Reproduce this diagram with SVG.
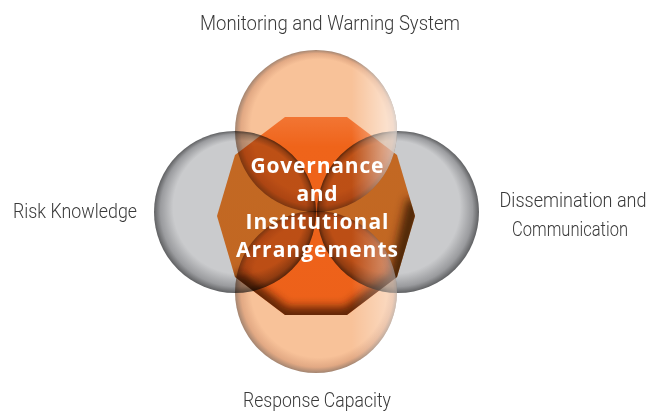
<svg xmlns="http://www.w3.org/2000/svg" width="662" height="415" viewBox="0 0 662 415">
  <style>
    .label { font-family: Roboto, "Liberation Sans", sans-serif; font-weight: 300; font-size: 21px; fill: #3a3a3a; }
    .core { font-family: "Open Sans", "Liberation Sans", sans-serif; font-weight: 700; font-size: 21px; fill: #ffffff; }
    .ring { mix-blend-mode: multiply; }
  </style>
  <defs>
    <!-- inner-shadow style fills for the four circles -->
    <radialGradient id="peachTop" cx="0.5" cy="0.5" r="0.5" fx="0.62" fy="0.36">
      <stop offset="0" stop-color="#f8c299"/>
      <stop offset="0.84" stop-color="#f8c299"/>
      <stop offset="0.94" stop-color="#e2a984"/>
      <stop offset="1" stop-color="#a38571"/>
    </radialGradient>
    <radialGradient id="peachBottom" cx="0.5" cy="0.5" r="0.5" fx="0.62" fy="0.4">
      <stop offset="0" stop-color="#f8c299"/>
      <stop offset="0.84" stop-color="#f8c299"/>
      <stop offset="0.94" stop-color="#e2a984"/>
      <stop offset="1" stop-color="#a38571"/>
    </radialGradient>
    <radialGradient id="grayLeft" cx="0.5" cy="0.5" r="0.5" fx="0.66" fy="0.34">
      <stop offset="0" stop-color="#cacbcd"/>
      <stop offset="0.82" stop-color="#cacbcd"/>
      <stop offset="0.94" stop-color="#9a9b9e"/>
      <stop offset="1" stop-color="#5f6062"/>
    </radialGradient>
    <radialGradient id="grayRight" cx="0.5" cy="0.5" r="0.5" fx="0.34" fy="0.34">
      <stop offset="0" stop-color="#cacbcd"/>
      <stop offset="0.82" stop-color="#cacbcd"/>
      <stop offset="0.94" stop-color="#9a9b9e"/>
      <stop offset="1" stop-color="#5f6062"/>
    </radialGradient>
    <linearGradient id="sheen" x1="0" y1="0" x2="1" y2="0">
      <stop offset="0" stop-color="#ffffff" stop-opacity="0"/>
      <stop offset="0.72" stop-color="#ffffff" stop-opacity="0"/>
      <stop offset="1" stop-color="#ffffff" stop-opacity="0.65"/>
    </linearGradient>
    <linearGradient id="coreFill" x1="0" y1="0" x2="0" y2="1">
      <stop offset="0" stop-color="#f99a55"/>
      <stop offset="0.15" stop-color="#f6832b"/>
      <stop offset="1" stop-color="#f4802a"/>
    </linearGradient>
    <clipPath id="coreClip">
      <polygon points="285,117 347,117 397,155 415,216 397,277 347,315 285,315 235,277 217,216 235,155"/>
    </clipPath>
    <filter id="soft" x="-20%" y="-20%" width="140%" height="140%">
      <feGaussianBlur stdDeviation="5"/>
    </filter>
  </defs>

  <!-- central decagon -->
  <g id="governance-shape">
    <polygon points="285,117 347,117 397,155 415,216 397,277 347,315 285,315 235,277 217,216 235,155" fill="url(#coreFill)"/>
    <g clip-path="url(#coreClip)">
      <polyline points="415,200 397,277 347,315 285,315 235,277" fill="none" stroke="#3b1604" stroke-width="16" stroke-opacity="0.8" filter="url(#soft)"/>
    </g>
  </g>

  <!-- overlapping circles, multiplied over the decagon -->
  <g id="monitoring" class="ring">
    <circle cx="316" cy="131" r="81" fill="url(#peachTop)"/>
  </g>
  <g id="response" class="ring">
    <circle cx="316" cy="292" r="81" fill="url(#peachBottom)"/>
  </g>
  <g id="risk-knowledge" class="ring">
    <circle cx="235" cy="212" r="81" fill="url(#grayLeft)"/>
  </g>
  <g id="dissemination" class="ring">
    <circle cx="398" cy="212" r="81" fill="url(#grayRight)"/>
  </g>
  <g id="sheens">
    <circle cx="316" cy="131" r="81" fill="url(#sheen)"/>
    <circle cx="316" cy="292" r="81" fill="url(#sheen)" opacity="0.7"/>
  </g>

  <!-- central title -->
  <g id="governance">
    <text class="core" x="317" y="173" text-anchor="middle" textLength="133" lengthAdjust="spacing">Governance</text>
    <text class="core" x="317" y="201" text-anchor="middle" textLength="41" lengthAdjust="spacing">and</text>
    <text class="core" x="317" y="229" text-anchor="middle" textLength="143" lengthAdjust="spacing">Institutional</text>
    <text class="core" x="317" y="257" text-anchor="middle" textLength="162" lengthAdjust="spacing">Arrangements</text>
  </g>

  <!-- outer labels -->
  <g id="labels">
    <text class="label" x="330" y="30" text-anchor="middle" textLength="260" lengthAdjust="spacingAndGlyphs">Monitoring and Warning System</text>
    <text class="label" x="75" y="218" text-anchor="middle" textLength="124" lengthAdjust="spacingAndGlyphs">Risk Knowledge</text>
    <text class="label" transform="translate(573 207) scale(0.84 1)" x="0" y="0" text-anchor="middle" textLength="175" lengthAdjust="spacingAndGlyphs">Dissemination and</text>
    <text class="label" x="570" y="236" text-anchor="middle" textLength="116" lengthAdjust="spacingAndGlyphs">Communication</text>
    <text class="label" x="317" y="407" text-anchor="middle" textLength="148" lengthAdjust="spacingAndGlyphs">Response Capacity</text>
  </g>
</svg>
